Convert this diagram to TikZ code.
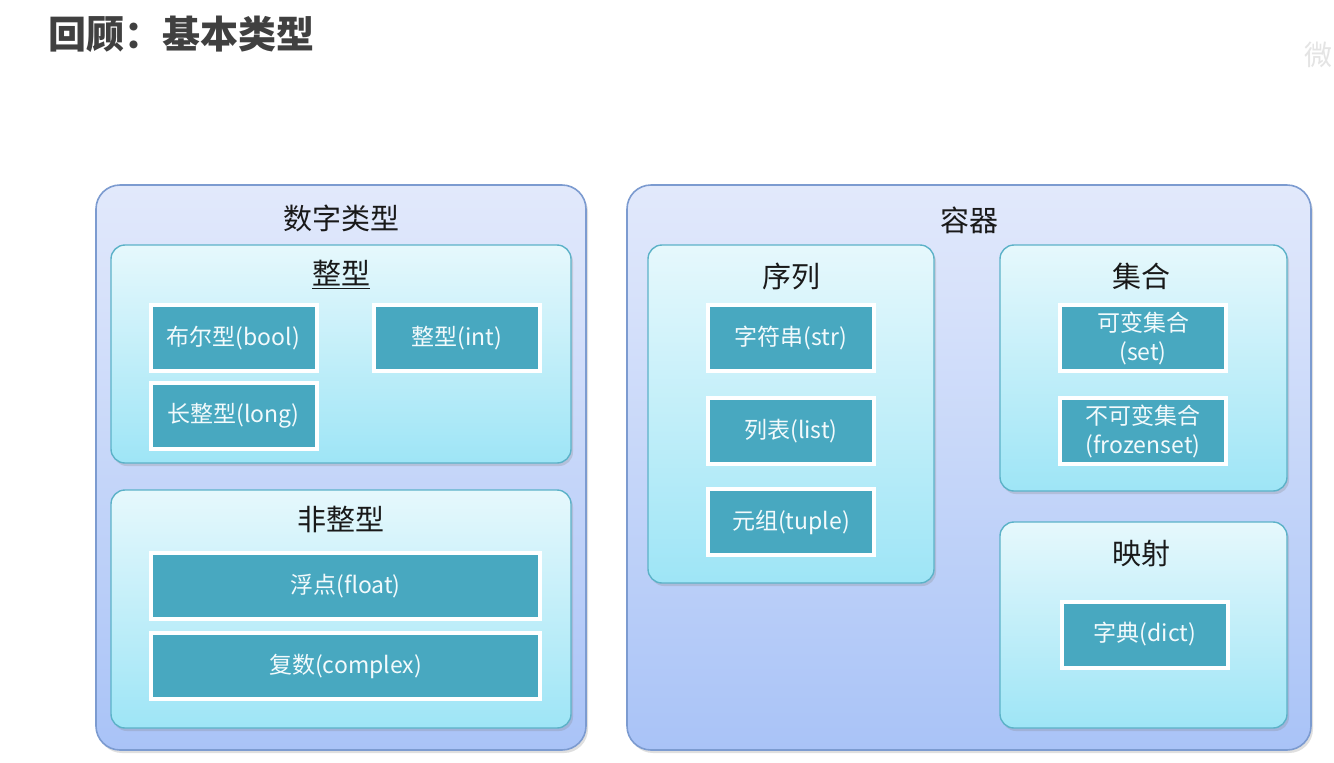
\documentclass[tikz,border=0pt]{standalone}
\usepackage{fontspec}
\setmainfont{Noto Sans CJK SC}
\usetikzlibrary{shadows}
\definecolor{titlegray}{HTML}{404040}
\definecolor{outertop}{HTML}{E2E9FB}
\definecolor{outerbot}{HTML}{A9C3F7}
\definecolor{outerline}{HTML}{7C9BD0}
\definecolor{innertop}{HTML}{E6F8FC}
\definecolor{innerbot}{HTML}{9EE5F6}
\definecolor{innerline}{HTML}{5CB2C8}
\definecolor{leaffill}{HTML}{48A8C0}
\definecolor{leaftext}{HTML}{F2FAFC}
\definecolor{wmark}{HTML}{E4E4E4}
\tikzset{
  x=0.5pt, y=-0.5pt,
  outerbox/.style={rectangle, rounded corners=12pt, draw=outerline, line width=0.8pt,
    top color=outertop, bottom color=outerbot, inner sep=0pt,
    drop shadow={opacity=0.25, shadow xshift=1pt, shadow yshift=-1.5pt}},
  innerbox/.style={rectangle, rounded corners=7pt, draw=innerline, line width=0.7pt,
    top color=innertop, bottom color=innerbot, inner sep=0pt,
    drop shadow={opacity=0.25, shadow xshift=1pt, shadow yshift=-1.5pt}},
  leaf/.style={rectangle, draw=white, line width=2pt, fill=leaffill, inner sep=0pt,
    minimum width=83pt, minimum height=33pt, align=center, text=leaftext,
    font=\fontsize{11.5pt}{13pt}\selectfont,
    drop shadow={opacity=0.3, shadow xshift=1pt, shadow yshift=-1.2pt}},
  sectitle/.style={font=\fontsize{14.5pt}{16pt}\selectfont, text=black!90, inner sep=0pt},
}
\begin{document}
\begin{tikzpicture}
\useasboundingbox[fill=white] (0,0) rectangle (1334,762);
\node[font=\fontsize{19pt}{21pt}\selectfont\bfseries, text=titlegray, anchor=west, inner sep=0pt] (title) at (48,34) {回顾：基本类型};
\node[font=\fontsize{14pt}{16pt}\selectfont, text=wmark, anchor=east, inner sep=0pt] (wm) at (1333,55) {微};

% outer boxes
\node[outerbox, minimum width=245pt, minimum height=282.5pt] (num) at (341,467.5) {};
\node[outerbox, minimum width=342pt, minimum height=282.5pt] (cont) at (969,467.5) {};
\node[sectitle] (numt) at (341,218) {数字类型};
\node[sectitle] (contt) at (969,220) {容器};

% inner boxes
\node[innerbox, minimum width=230pt, minimum height=109pt] (int) at (341,354) {};
\node[innerbox, minimum width=230pt, minimum height=119pt] (nonint) at (341,609) {};
\node[innerbox, minimum width=143pt, minimum height=169pt] (seq) at (791,414) {};
\node[innerbox, minimum width=143.5pt, minimum height=123pt] (set) at (1143.5,368) {};
\node[innerbox, minimum width=143.5pt, minimum height=103pt] (map) at (1143.5,625) {};

\node[sectitle] (intt) at (341,275) {\underline{整型}};
\node[sectitle] (nonintt) at (341,519) {非整型};
\node[sectitle] (seqt) at (791,276) {序列};
\node[sectitle] (sett) at (1141,276) {集合};
\node[sectitle] (mapt) at (1141,553) {映射};

% leaves
\node[leaf] (bool) at (233.5,338) {布尔型(bool)};
\node[leaf] (intl) at (457,338) {整型(int)};
\node[leaf] (long) at (233.5,416) {长整型(long)};
\node[leaf, minimum width=194.5pt] (float) at (345.5,586) {浮点(float)};
\node[leaf, minimum width=194.5pt] (complex) at (345.5,666) {复数(complex)};
\node[leaf] (str) at (791,338) {字符串(str)};
\node[leaf] (list) at (791,431) {列表(list)};
\node[leaf] (tuple) at (791,522) {元组(tuple)};
\node[leaf, font=\fontsize{11.5pt}{14.5pt}\selectfont] (mset) at (1143,338) {可变集合\\(set)};
\node[leaf, font=\fontsize{11.5pt}{14.5pt}\selectfont] (fset) at (1143,431) {不可变集合\\(frozenset)};
\node[leaf] (dict) at (1145,634.5) {字典(dict)};
\end{tikzpicture}
\end{document}
